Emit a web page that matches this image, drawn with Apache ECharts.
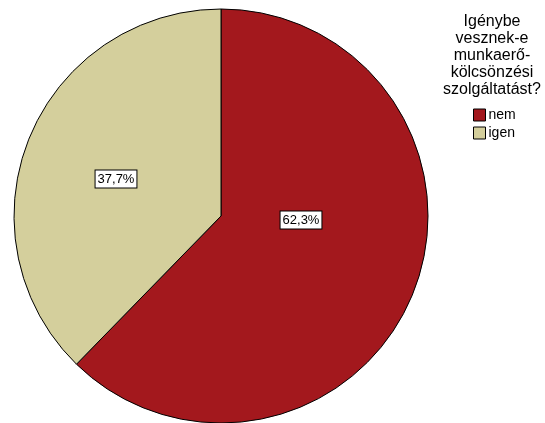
<!DOCTYPE html>
<html>
<head>
<meta charset="utf-8">
<script src="https://cdn.jsdelivr.net/npm/echarts@6/dist/echarts.min.js"></script>
<style>
  html, body { margin: 0; padding: 0; background: #fff; }
  #chart { width: 545px; height: 423px; }
</style>
</head>
<body>
<div id="chart"></div>
<script>
// Answer categories and their shares (percent)
const categories = ['nem', 'igen'];
const shares = [62.3, 37.7];
const legendTitle = 'Igénybe\nvesznek-e\nmunkaerő-\nkölcsönzési\nszolgáltatást?';

const sliceColors = ['#A3181D', '#D4CF9C'];
// Label anchor points for each slice (pixel positions of the value boxes)
const labelSpots = [[301, 220], [116, 179]];

const chart = echarts.init(document.getElementById('chart'), null, { renderer: 'canvas' });

const fmt = v => v.toFixed(1).replace('.', ',') + '%';
const FONT = 'Liberation Sans, Arial, sans-serif';

chart.setOption({
  animation: false,
  backgroundColor: '#ffffff',
  color: sliceColors,
  graphic: [{
    type: 'text',
    x: 492,
    y: 13,
    style: {
      text: legendTitle,
      fontFamily: FONT,
      fontSize: 16,
      lineHeight: 17,
      fill: '#000',
      align: 'center',
      verticalAlign: 'top'
    }
  }],
  legend: {
    orient: 'vertical',
    left: 473,
    top: 108,
    padding: 0,
    itemWidth: 12,
    itemHeight: 12,
    itemGap: 4,
    icon: 'rect',
    selectedMode: false,
    itemStyle: { borderColor: '#000', borderWidth: 1 },
    textStyle: {
      fontFamily: FONT,
      fontSize: 14,
      color: '#000',
      padding: [0, 0, 0, -2]
    },
    data: categories
  },
  series: [{
    type: 'pie',
    center: [221, 216],
    radius: 207,
    startAngle: 90,
    clockwise: true,
    itemStyle: { borderColor: '#000', borderWidth: 1 },
    label: {
      show: true,
      position: 'inside',
      formatter: p => fmt(p.value),
      fontFamily: FONT,
      fontSize: 13,
      color: '#000',
      backgroundColor: '#fff',
      borderColor: '#000',
      borderWidth: 1,
      padding: [3, 2, 1, 2]
    },
    labelLine: { show: false },
    labelLayout: p => ({
      x: labelSpots[p.dataIndex][0],
      y: labelSpots[p.dataIndex][1],
      align: 'center',
      verticalAlign: 'middle'
    }),
    emphasis: { disabled: true },
    data: categories.map((c, i) => ({ name: c, value: shares[i] }))
  }]
});
</script>
</body>
</html>
